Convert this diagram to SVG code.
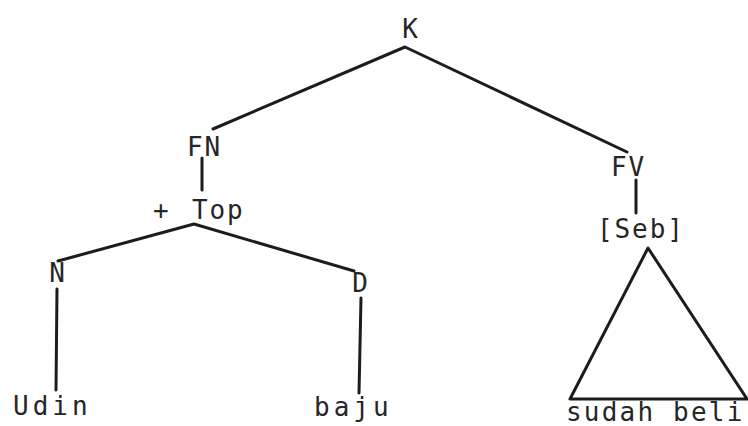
<svg xmlns="http://www.w3.org/2000/svg" width="748" height="426" viewBox="0 0 748 426">
<style>
text{font-family:"DejaVu Sans Mono","Liberation Mono",monospace;font-size:26px;fill:#262626}
.u{letter-spacing:1.9px}
.w{letter-spacing:4px}
.s{letter-spacing:2.2px}
.c{fill:none;stroke:#1c1c1c;stroke-width:3;stroke-linecap:round;stroke-linejoin:round}
</style>
<rect width="748" height="426" fill="#ffffff"/>
<g id="connectors">
<path class="c" d="M213 129 L405 47 L627 152"/>
<path class="c" d="M202 158 L202 190"/>
<path class="c" d="M58 261 L194 224 L354 271"/>
<path class="c" d="M57 289 L56 390"/>
<path class="c" d="M361 298 L359 393"/>
<path class="c" d="M636 180 L636 213"/>
<path class="c" d="M648 248 L570 399 L747 399 Z"/>
</g>
<g id="node-K"><text x="410" y="38" text-anchor="middle">K</text></g>
<g id="node-FN"><text class="u" x="187" y="156">FN</text></g>
<g id="node-Top"><text class="u"><tspan x="153" y="219">+</tspan><tspan x="192" y="219">Top</tspan></text></g>
<g id="node-N"><text x="57" y="282" text-anchor="middle">N</text></g>
<g id="node-D"><text x="360" y="292" text-anchor="middle">D</text></g>
<g id="node-Udin"><text class="w" x="13" y="415">Udin</text></g>
<g id="node-baju"><text class="w" x="314" y="416">baju</text></g>
<g id="node-FV"><text class="u" x="611" y="176">FV</text></g>
<g id="node-Seb"><text class="u" x="597" y="238">[Seb]</text></g>
<g id="node-sudah-beli"><text class="s" x="566" y="421">sudah beli</text></g>
</svg>
